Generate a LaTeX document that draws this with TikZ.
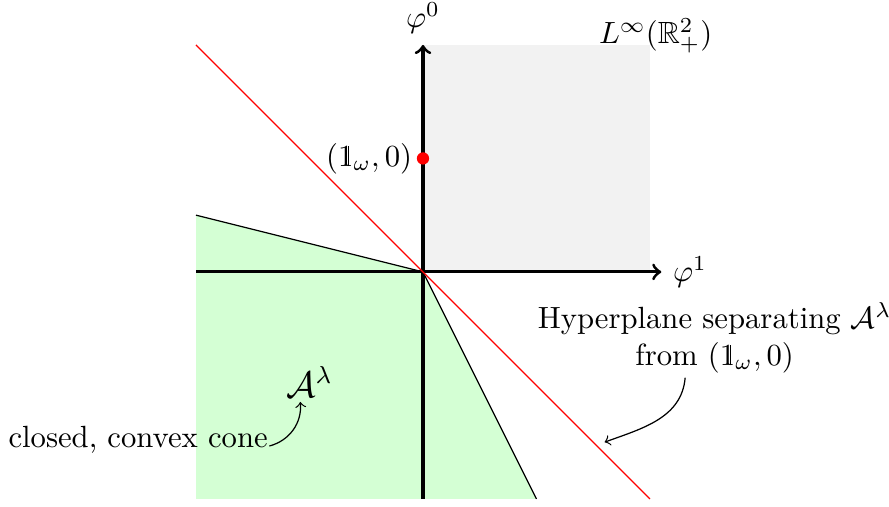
\documentclass[tikz,border=0pt]{standalone}
\usepackage{amsmath,amssymb}
\newcommand{\dsone}{\text{\rlap{1}\hspace{0.32em}\rule{0.03em}{0.655em}\hspace{0.15em}}}
\begin{document}
\begin{tikzpicture}[x=1.3cm,y=1.3cm,
  axis/.style={line width=1pt,->},
  ray/.style={line width=0.4pt,black},
  hyper/.style={red,line width=0.4pt},
  pointer/.style={->,line width=0.4pt}]
\useasboundingbox (-3.727,-2.070) rectangle (4.106,2.396);
% cone
\fill[green!17] (-2,0.5) -- (0,0) -- (1,-2) -- (-2,-2) -- cycle;
\draw[ray] (-2,0.5) -- (0,0) -- (1,-2);
% positive orthant
\fill[gray!10] (0,0) rectangle (2,2);
% axes
\draw[axis] (-2,0) -- (2.1,0) node[right] (p1) {$\varphi^1$};
\draw[axis] (0,-2) -- (0,2) node[above] (p0) {$\varphi^0$};
% hyperplane
\draw[hyper] (-2,2) -- (2,-2);
% point
\fill[red] (0,1) circle (2pt);
\node[left] (pt) at (0,1) {$(\dsone_\omega,0)$};
\node (Linf) at (2.05,2.08) {$L^\infty(\mathbb{R}^2_+)$};
% labels
\node[align=center] (hp) at (2.57,-0.58) {Hyperplane separating $\mathcal{A}^\lambda$\\from $(\dsone_\omega,0)$};
\coordinate (hpend) at (1.6,-1.5);
\draw[pointer] ([xshift=-0.338cm,yshift=2pt]hp.south) to[out=-95,in=20] (hpend);
\node (A) at (-1.0,-0.97) {\large $\mathcal{A}^\lambda$};
\node (cc) at (-2.51,-1.48) {closed, convex cone};
\draw[pointer] ([xshift=-3pt,yshift=-2pt]cc.east) to[out=15,in=-85] ([xshift=-3pt,yshift=2pt]A.south);
\end{tikzpicture}
\end{document}
